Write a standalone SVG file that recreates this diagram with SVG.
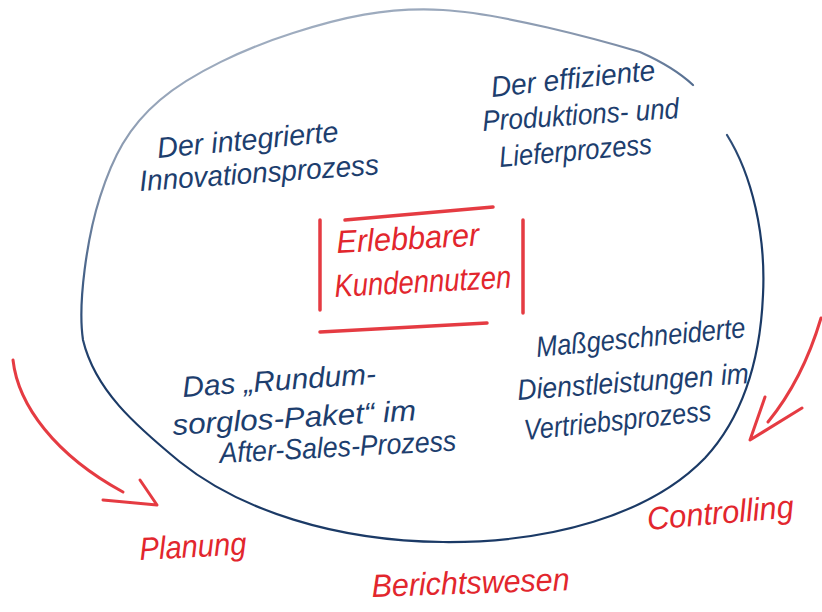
<svg xmlns="http://www.w3.org/2000/svg" width="822" height="612" viewBox="0 0 822 612">
<style>
.bt{font-family:"Liberation Sans",Arial,sans-serif;font-style:italic;font-size:29px;fill:#1d3e6e;}
.rt{font-family:"Liberation Sans",Arial,sans-serif;font-style:italic;font-size:32px;fill:#e2262d;}
.rl{fill:none;stroke:#e2262d;stroke-linecap:round;stroke-linejoin:round;}
</style>
<defs>
<linearGradient id="eg" gradientUnits="userSpaceOnUse" x1="150" y1="0" x2="250" y2="350">
<stop offset="0" stop-color="#b3bfce"/>
<stop offset="0.45" stop-color="#8393ab"/>
<stop offset="0.72" stop-color="#3c5a82"/>
<stop offset="0.95" stop-color="#1b3a66"/>
</linearGradient>
</defs>
<rect width="822" height="612" fill="#ffffff"/>
<g id="connectors">
<path id="cycle" d="M727,135 C752,175 766,235 763,295 C760,365 740,420 705,458 C650,515 550,543 443,542 C335,541 240,510 180,462 C135,425 95,390 83,340 C77.5,303 87.2,237 100,197 C112.8,157 127.8,127.3 160,100 C192.2,72.7 245.8,48 293,33 C340.2,18 385.2,6.8 443,10 C500.8,13.2 598.3,39.5 640,52 C658,60 678,71 693,85" fill="none" stroke="url(#eg)" stroke-width="2.2" stroke-linecap="round"/>
<path id="arrow-left" class="rl" stroke-width="3" opacity="0.9" d="M13,360 C18,405 55,455 123,492 M103,500 L157,505 L140,480"/>
<path id="arrow-right" class="rl" stroke-width="3" opacity="0.9" d="M821,318 C808,362 790,395 768,422 M802,408 L750,440 L765,397"/>
</g>
<g id="center">
<path class="rl" stroke-width="3.5" opacity="0.9" d="M345,220 L493,207 M320,220 L320,310 M523,220 L523,313 M320,332 L487,323"/>
<text class="rt" x="337" y="253" font-size="30" textLength="143" lengthAdjust="spacingAndGlyphs" transform="rotate(-3 337 253)">Erlebbarer</text>
<text class="rt" x="335" y="297" textLength="177" lengthAdjust="spacingAndGlyphs" transform="rotate(-3 335 297)">Kundennutzen</text>
</g>
<g id="innovation">
<text class="bt" x="158" y="158" textLength="182" lengthAdjust="spacingAndGlyphs" transform="rotate(-5.3 158 158)">Der integrierte</text>
<text class="bt" x="140" y="191" textLength="240" lengthAdjust="spacingAndGlyphs" transform="rotate(-4 140 191)">Innovationsprozess</text>
</g>
<g id="produktion">
<text class="bt" x="492" y="97" textLength="165" lengthAdjust="spacingAndGlyphs" transform="rotate(-6 492 97)">Der effiziente</text>
<text class="bt" x="483" y="131" textLength="197" lengthAdjust="spacingAndGlyphs" transform="rotate(-3.8 483 131)">Produktions- und</text>
<text class="bt" x="500" y="167" textLength="153" lengthAdjust="spacingAndGlyphs" transform="rotate(-5 500 167)">Lieferprozess</text>
</g>
<g id="aftersales">
<text class="bt" x="183" y="397" textLength="194" lengthAdjust="spacingAndGlyphs" transform="rotate(-4 183 397)">Das „Rundum-</text>
<text class="bt" x="173" y="435" textLength="244" lengthAdjust="spacingAndGlyphs" transform="rotate(-3.5 173 435)">sorglos-Paket“ im</text>
<text class="bt" x="220" y="463" textLength="237" lengthAdjust="spacingAndGlyphs" transform="rotate(-3 220 463)">After-Sales-Prozess</text>
</g>
<g id="vertrieb">
<text class="bt" x="537" y="357" textLength="210" lengthAdjust="spacingAndGlyphs" transform="rotate(-5.4 537 357)">Maßgeschneiderte</text>
<text class="bt" x="518" y="400" textLength="232" lengthAdjust="spacingAndGlyphs" transform="rotate(-4.2 518 400)">Dienstleistungen im</text>
<text class="bt" x="525" y="440" textLength="188" lengthAdjust="spacingAndGlyphs" transform="rotate(-6 525 440)">Vertriebsprozess</text>
</g>
<g id="planung">
<text class="rt" x="140" y="560" textLength="107" lengthAdjust="spacingAndGlyphs" transform="rotate(-3 140 560)">Planung</text>
</g>
<g id="berichtswesen">
<text class="rt" x="372" y="597" textLength="198" lengthAdjust="spacingAndGlyphs" transform="rotate(-2 372 597)">Berichtswesen</text>
</g>
<g id="controlling">
<text class="rt" x="648" y="530" textLength="147" lengthAdjust="spacingAndGlyphs" transform="rotate(-5 648 530)">Controlling</text>
</g>
</svg>
